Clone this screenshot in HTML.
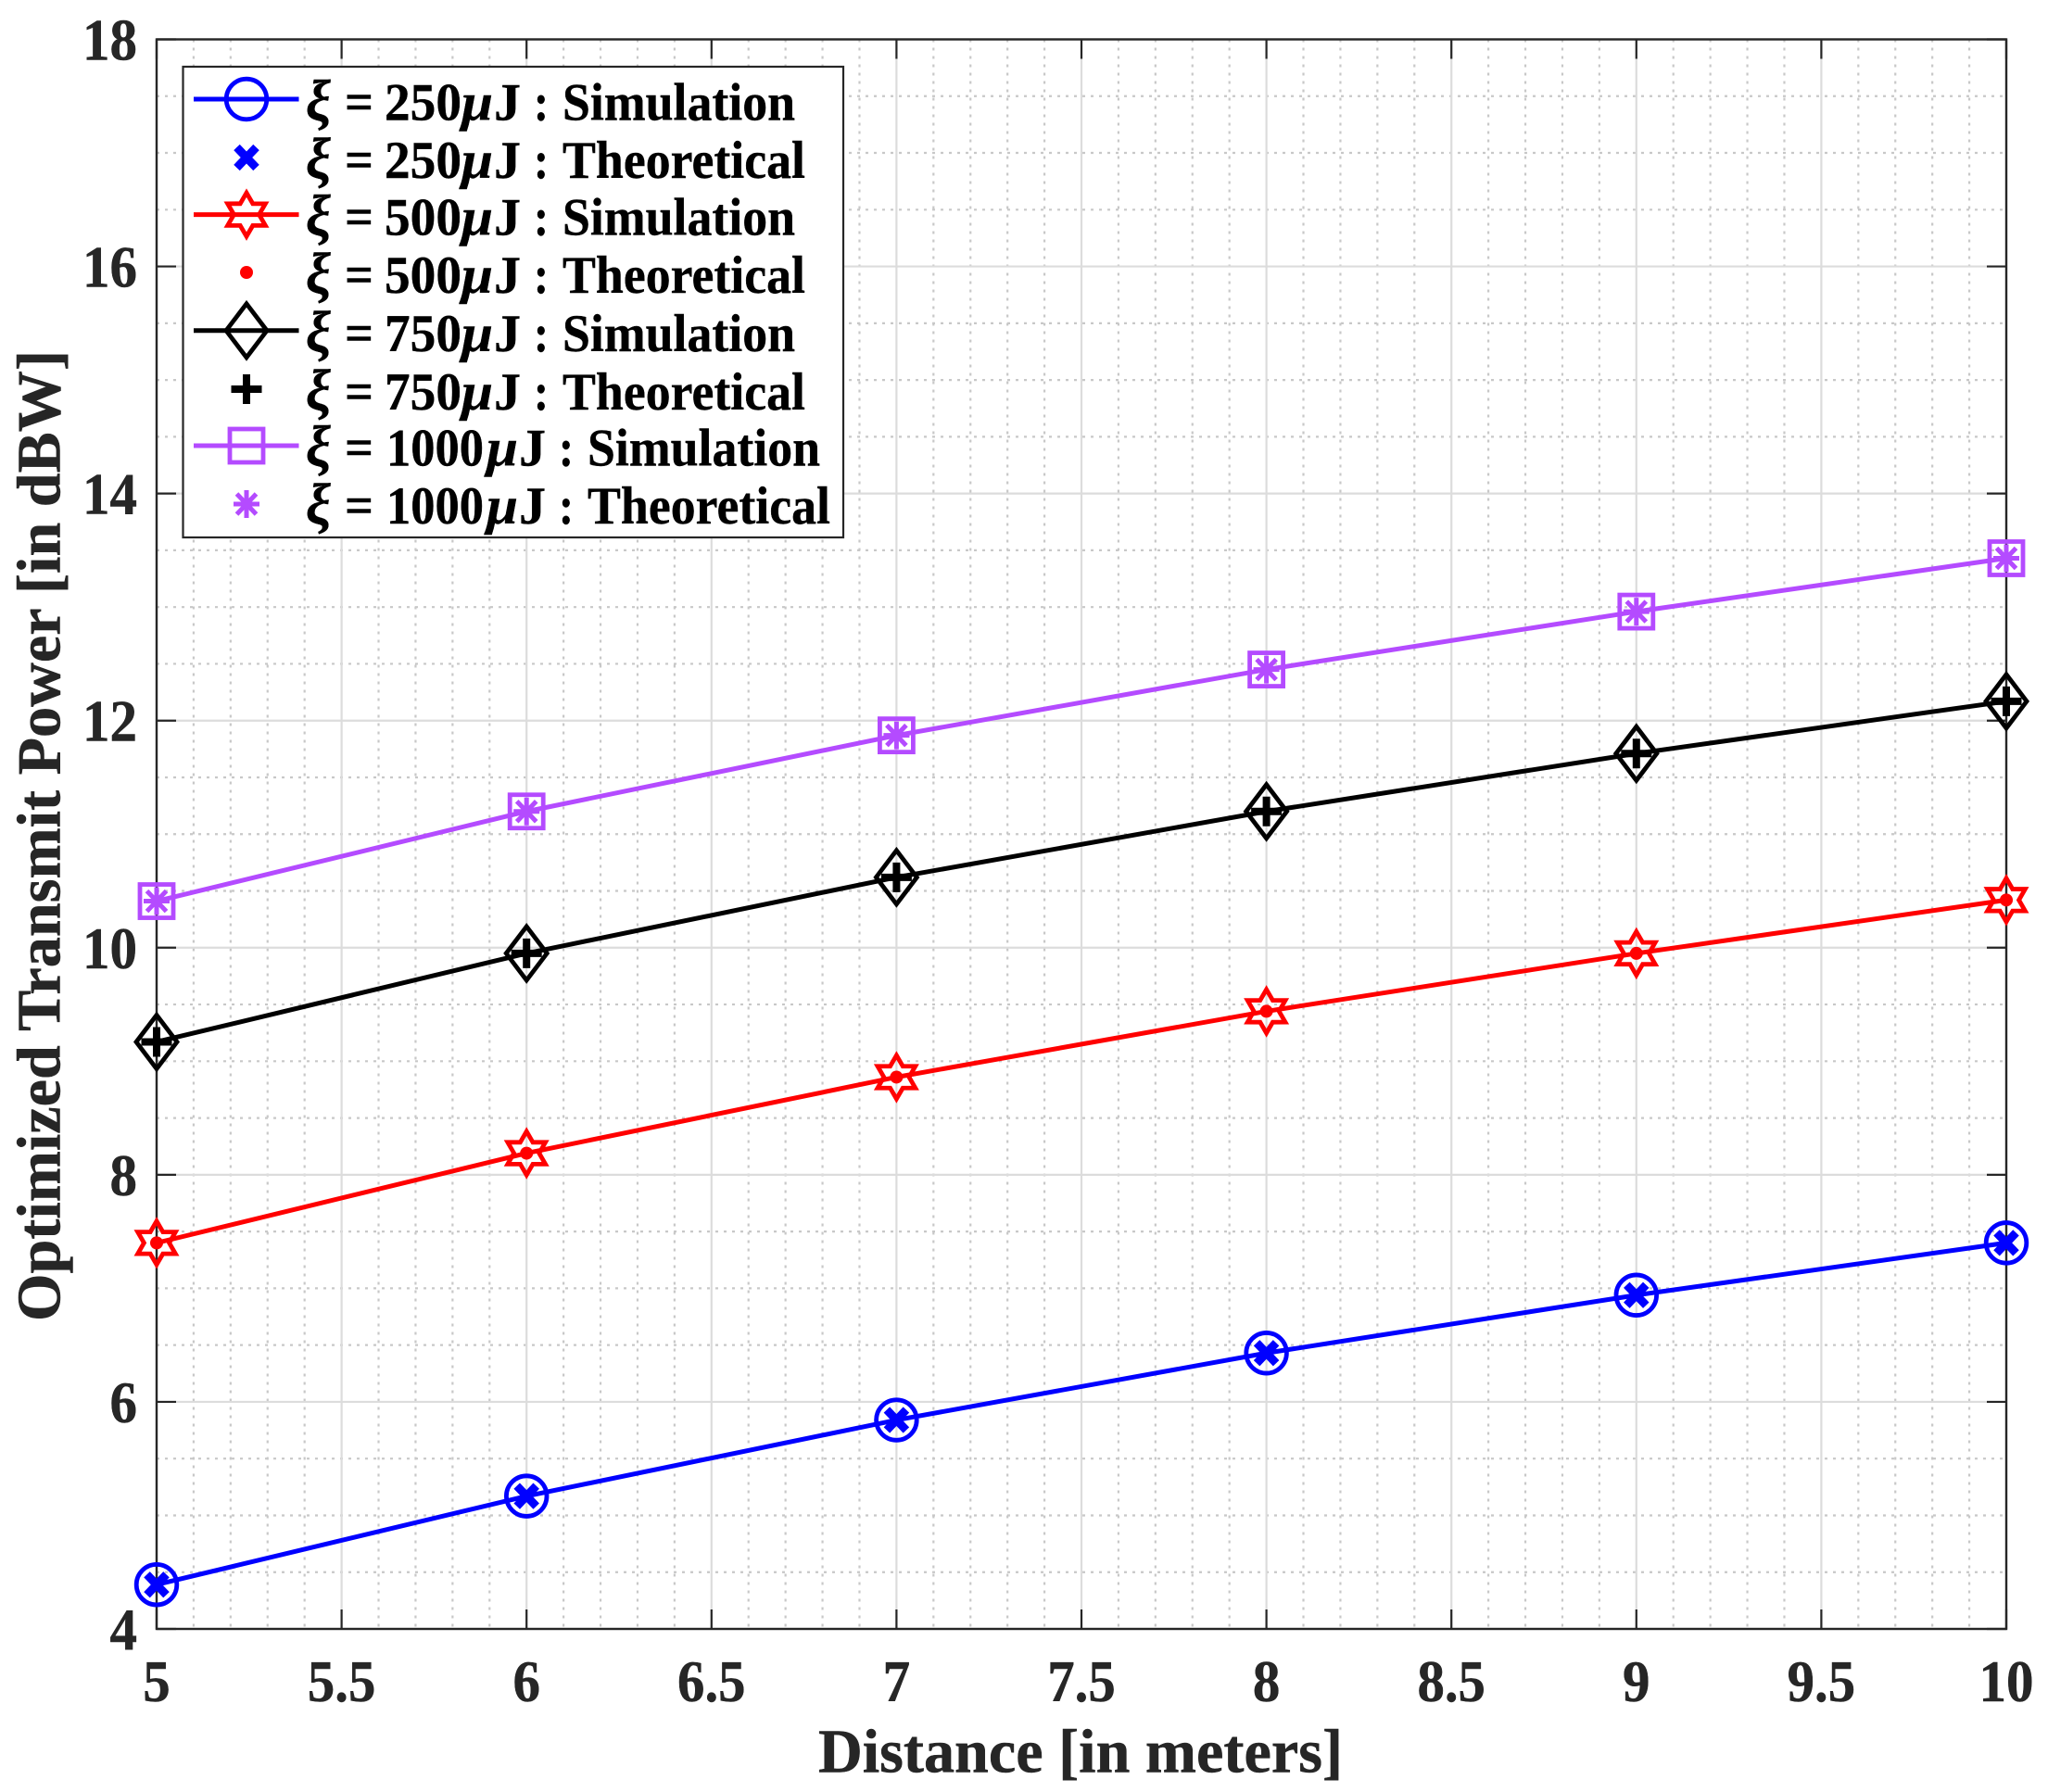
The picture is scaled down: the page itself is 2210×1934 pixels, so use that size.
<!DOCTYPE html>
<html>
<head>
<meta charset="utf-8">
<title>Optimized Transmit Power vs Distance</title>
<style>
html,body{margin:0;padding:0;background:#fff;}
svg{display:block;}
text{font-family:"Liberation Serif","Times New Roman",serif;font-weight:bold;}
</style>
</head>
<body>
<svg id="chart" xmlns="http://www.w3.org/2000/svg" width="2210" height="1934" viewBox="0 0 2210 1934">
<rect x="0" y="0" width="2210" height="1934" fill="#ffffff"/>
<g id="grid"></g>
<g id="axes"></g>
<g id="series"></g>
<g id="legend"></g>
<g id="titles">
<text x="1166" y="1912.5" text-anchor="middle" font-size="67" fill="#262626" stroke="#262626" stroke-width="0.5" textLength="566" lengthAdjust="spacingAndGlyphs">Distance [in meters]</text>
<text transform="translate(64.5,902) rotate(-90)" x="0" y="0" text-anchor="middle" font-size="67" fill="#262626" stroke="#262626" stroke-width="0.5" textLength="1048" lengthAdjust="spacingAndGlyphs">Optimized Transmit Power [in dBW]</text>
</g>
</svg>
<script>
var categories = [5, 6, 7, 8, 9, 10];
var sim250 = [4.39, 5.17, 5.84, 6.43, 6.94, 7.40];
var theory250 = [4.39, 5.17, 5.84, 6.43, 6.94, 7.40];
var sim500 = [7.40, 8.19, 8.86, 9.44, 9.95, 10.42];
var theory500 = [7.40, 8.19, 8.86, 9.44, 9.95, 10.42];
var sim750 = [9.17, 9.95, 10.62, 11.20, 11.71, 12.17];
var theory750 = [9.17, 9.95, 10.62, 11.20, 11.71, 12.17];
var sim1000 = [10.41, 11.20, 11.87, 12.45, 12.96, 13.43];
var theory1000 = [10.41, 11.20, 11.87, 12.45, 12.96, 13.43];
var xTickLabels = ["5", "5.5", "6", "6.5", "7", "7.5", "8", "8.5", "9", "9.5", "10"];
var yTickLabels = ["4", "6", "8", "10", "12", "14", "16", "18"];

var NS = "http://www.w3.org/2000/svg";
var L = 169, R = 2165, T = 42.5, B = 1758;
var xMin = 5, xMax = 10, yMin = 4, yMax = 18;
function X(v){ return L + (v - xMin) / (xMax - xMin) * (R - L); }
function Y(v){ return B - (v - yMin) / (yMax - yMin) * (B - T); }

function make(tag, parent, attrs){
  var el = document.createElementNS(NS, tag);
  for (var k in attrs) el.setAttribute(k, attrs[k]);
  parent.appendChild(el);
  return el;
}

var grid = document.getElementById("grid");
var axes = document.getElementById("axes");
var seriesG = document.getElementById("series");
var legend = document.getElementById("legend");

/* minor grid */
var i, v, el;
for (i = 0; i <= 50; i++) {
  if (i % 5 === 0) continue;
  v = xMin + i * 0.1;
  el = make("line", grid, {x1: X(v), x2: X(v), y1: T, y2: B, stroke: "#c8c8c8", "stroke-width": 2.2, "stroke-dasharray": "3 6"});
  
  
}
for (i = 0; i <= 28; i++) {
  if (i % 4 === 0) continue;
  v = yMin + i * 0.5;
  el = make("line", grid, {x1: L, x2: R, y1: Y(v), y2: Y(v), stroke: "#c8c8c8", "stroke-width": 2.2, "stroke-dasharray": "3 6"});
  
  
}
/* major grid, ticks, labels */
xTickLabels.forEach(function(lab){
  var val = parseFloat(lab), px = X(val);
  var g = make("line", grid, {x1: px, x2: px, y1: T, y2: B, stroke: "#dcdcdc", "stroke-width": 2.2});
  
  
  var t1 = make("line", axes, {x1: px, x2: px, y1: B, y2: B - 21, stroke: "#262626", "stroke-width": 2.2});
  
  
  var t2 = make("line", axes, {x1: px, x2: px, y1: T, y2: T + 21, stroke: "#262626", "stroke-width": 2.2});
  
  
  var digits = lab.replace(".", "").length, dots = lab.length - digits;
  var tx = make("text", axes, {x: px, y: 1836, "text-anchor": "middle", "font-size": 64, fill: "#262626", stroke: "#262626", "stroke-width": 0.5, textLength: digits * 29.5 + dots * 14.5, lengthAdjust: "spacingAndGlyphs"});
  
  
  tx.textContent = lab;
});
yTickLabels.forEach(function(lab){
  var val = parseFloat(lab), py = Y(val);
  var g = make("line", grid, {x1: L, x2: R, y1: py, y2: py, stroke: "#dcdcdc", "stroke-width": 2.2});
  
  
  var t1 = make("line", axes, {x1: L, x2: L + 21, y1: py, y2: py, stroke: "#262626", "stroke-width": 2.2});
  
  
  var t2 = make("line", axes, {x1: R, x2: R - 21, y1: py, y2: py, stroke: "#262626", "stroke-width": 2.2});
  
  
  var tx = make("text", axes, {x: 148, y: py + 22, "text-anchor": "end", "font-size": 64, fill: "#262626", stroke: "#262626", "stroke-width": 0.5, textLength: lab.length * 29.5, lengthAdjust: "spacingAndGlyphs"});
  
  
  tx.textContent = lab;
});
var frame = make("rect", axes, {x: L, y: T, width: R - L, height: B - T, fill: "none", stroke: "#262626", "stroke-width": 2.4});



/* markers */
function marker(type, parent, cx, cy, color){
  var el, r, pts, a, k;
  if (type === "circle") {
    el = make("circle", parent, {cx: cx, cy: cy, r: 21.8, fill: "none", stroke: color, "stroke-width": 4.8});
  } else if (type === "hexagram") {
    pts = [];
    for (k = 0; k < 12; k++) {
      r = (k % 2 === 0) ? 23.5 : 13.6;
      a = k * Math.PI / 6;
      pts.push((cx + r * Math.sin(a)) + "," + (cy - r * Math.cos(a)));
    }
    el = make("polygon", parent, {points: pts.join(" "), fill: "none", stroke: color, "stroke-width": 4.8});
  } else if (type === "diamond") {
    pts = [cx + "," + (cy - 29), (cx + 22) + "," + cy, cx + "," + (cy + 29), (cx - 22) + "," + cy];
    el = make("polygon", parent, {points: pts.join(" "), fill: "none", stroke: color, "stroke-width": 4.8});
  } else if (type === "square") {
    el = make("rect", parent, {x: cx - 18, y: cy - 18, width: 36, height: 36, fill: "none", stroke: color, "stroke-width": 4.8});
  } else if (type === "cross") {
    el = make("path", parent, {d: "M" + (cx - 10.5) + " " + (cy - 11) + "L" + (cx + 10.5) + " " + (cy + 11) + "M" + (cx + 10.5) + " " + (cy - 11) + "L" + (cx - 10.5) + " " + (cy + 11), fill: "none", stroke: color, "stroke-width": 9});
  } else if (type === "dot") {
    el = make("circle", parent, {cx: cx, cy: cy, r: 7, fill: color});
  } else if (type === "plus") {
    el = make("path", parent, {d: "M" + (cx - 16.5) + " " + cy + "L" + (cx + 16.5) + " " + cy + "M" + cx + " " + (cy - 16) + "L" + cx + " " + (cy + 16), fill: "none", stroke: color, "stroke-width": 8});
  } else {
    el = make("path", parent, {d: "M" + (cx - 14) + " " + cy + "L" + (cx + 14) + " " + cy + "M" + cx + " " + (cy - 15) + "L" + cx + " " + (cy + 15) + "M" + (cx - 10.5) + " " + (cy - 11) + "L" + (cx + 10.5) + " " + (cy + 11) + "M" + (cx + 10.5) + " " + (cy - 11) + "L" + (cx - 10.5) + " " + (cy + 11), fill: "none", stroke: color, "stroke-width": 5});
  }
  return el;
}

var seriesDefs = [
  {id: "250", color: "#0000ff", sim: sim250, theory: theory250, simMark: "circle", thMark: "cross"},
  {id: "500", color: "#ff0000", sim: sim500, theory: theory500, simMark: "hexagram", thMark: "dot"},
  {id: "750", color: "#000000", sim: sim750, theory: theory750, simMark: "diamond", thMark: "plus"},
  {id: "1000", color: "#b44bff", sim: sim1000, theory: theory1000, simMark: "square", thMark: "asterisk"}
];

seriesDefs.forEach(function(s){
  var g = make("g", seriesG, {});
  
  
  var pts = categories.map(function(c, j){ return X(c) + "," + Y(s.sim[j]); }).join(" ");
  var line = make("polyline", g, {points: pts, fill: "none", stroke: s.color, "stroke-width": 5});
  
  
  categories.forEach(function(c, j){
    var m1 = marker(s.simMark, g, X(c), Y(s.sim[j]), s.color);
    
    
    var m2 = marker(s.thMark, g, X(c), Y(s.theory[j]), s.color);
    
    
  });
});

/* legend */
var box = make("rect", legend, {x: 197.5, y: 72, width: 712.5, height: 508, fill: "#ffffff", stroke: "#262626", "stroke-width": 2.2});



var legendRows = [
  {s: 0, kind: "Simulation", markY: 107, base: 129.5},
  {s: 0, kind: "Theoretical", markY: 170, base: 192},
  {s: 1, kind: "Simulation", markY: 231.6, base: 253.5},
  {s: 1, kind: "Theoretical", markY: 294, base: 316},
  {s: 2, kind: "Simulation", markY: 356.8, base: 379},
  {s: 2, kind: "Theoretical", markY: 420, base: 442},
  {s: 3, kind: "Simulation", markY: 481, base: 502.5},
  {s: 3, kind: "Theoretical", markY: 544, base: 565}
];

function part(parent, x, w, base, str, italic, size){
  var attrs = {x: x, y: base, "font-size": size || 57, fill: "#000000", stroke: "#000000", "stroke-width": 0.4, textLength: w, lengthAdjust: "spacingAndGlyphs"};
  if (italic) attrs["font-style"] = "italic";
  var t = make("text", parent, attrs);
  t.textContent = str;
  return t;
}

legendRows.forEach(function(row){
  var s = seriesDefs[row.s];
  var g = make("g", legend, {});
  
  
  var sim = row.kind === "Simulation";
  if (sim) {
    var ln = make("line", g, {x1: 209, x2: 322.5, y1: row.markY, y2: row.markY, stroke: s.color, "stroke-width": 5});
    
    
  }
  var mk = marker(sim ? s.simMark : s.thMark, g, 266, row.markY, s.color);
  
  
  var long = s.id === "1000";
  var d = long ? 27 : 0;
  var p;
  p = part(g, 330, 27, row.base, "\u03BE", true, 62);
  
  
  p = part(g, 372, 31, row.base, "=", false);
  
  
  p = part(g, long ? 417 : 415, long ? 105 : 83, row.base, s.id, false);
  
  
  p = part(g, (long ? 525 : 498) , 34, row.base, "\u03BC", true);
  
  
  p = part(g, 533 + d, 29, row.base, "J", false);
  
  
  p = part(g, 576 + d, 16, row.base, ":", false);
  
  
  p = part(g, 607 + d, sim ? 251 : 262, row.base, row.kind, false);
  
  
});
</script>
</body>
</html>
